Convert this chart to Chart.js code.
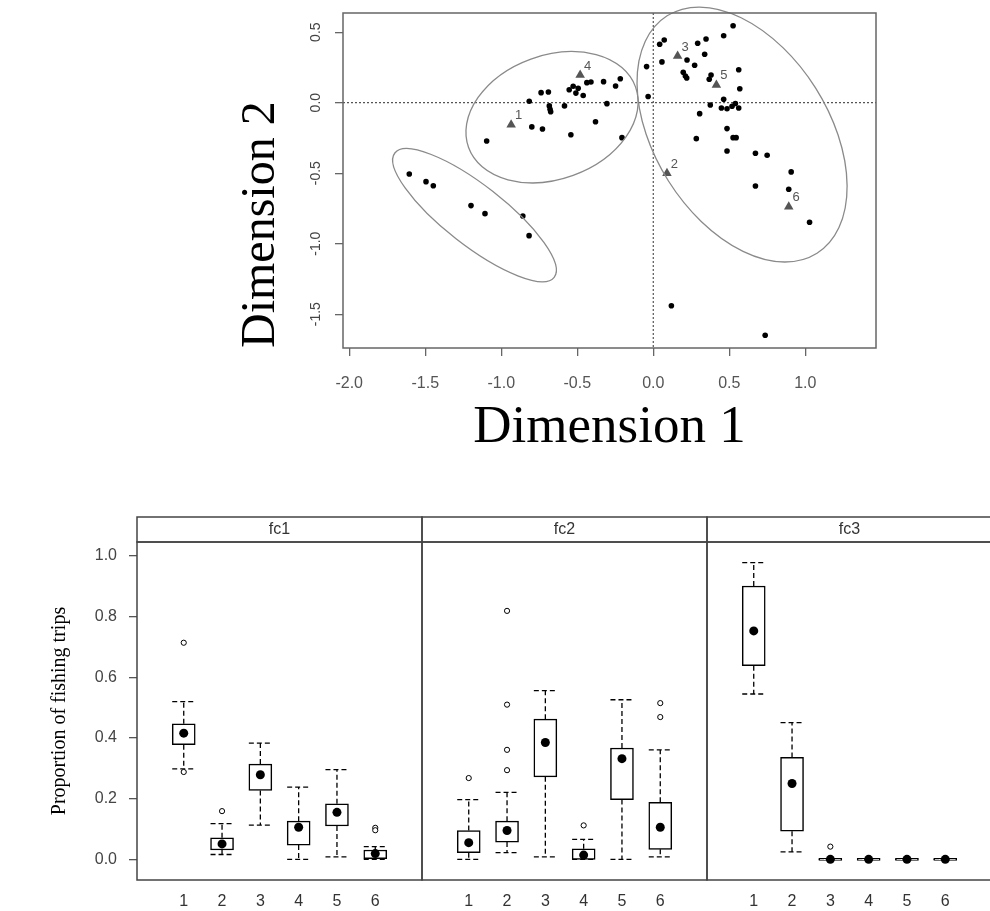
<!DOCTYPE html>
<html>
<head>
<meta charset="utf-8">
<script src="https://cdn.jsdelivr.net/npm/chart.js@4.4.1/dist/chart.umd.min.js"></script>
<style>
  html, body { margin: 0; padding: 0; background: #fff; }
  body { width: 990px; height: 911px; position: relative; overflow: hidden; }
  canvas { position: absolute; }
  #scatter { left: 0; top: 0; }
  #p1 { left: 0; top: 500px; }
  #p2 { left: 414px; top: 500px; }
  #p3 { left: 699px; top: 500px; }
</style>
</head>
<body>
<canvas id="scatter" width="990" height="470"></canvas>
<canvas id="p1" width="430" height="411"></canvas>
<canvas id="p2" width="301" height="411"></canvas>
<canvas id="p3" width="301" height="411"></canvas>
<script>
// ---- top: MDS plot ----
const dim1 = [-1.605, -1.495, -1.447, -1.199, -1.107, -0.858, -0.817,
  -1.096, -0.816, -0.738, -0.690, -0.684, -0.679, -0.675, -0.584, -0.799, -0.729, -0.542,
  -0.553, -0.527, -0.494, -0.509, -0.461, -0.437, -0.410, -0.327, -0.248, -0.217, -0.305, -0.380, -0.206,
  -0.044, -0.034, 0.525, 0.463, 0.347, 0.292, 0.338, 0.072, 0.042, 0.057, 0.222, 0.272,
  0.197, 0.211, 0.220, 0.380, 0.368, 0.562, 0.569, 0.463, 0.375, 0.448, 0.485, 0.518, 0.540, 0.562,
  0.305, 0.485, 0.525, 0.545, 0.283, 0.485, 0.672, 0.749, 0.907, 0.672, 0.891, 1.028, 0.119, 0.736]
const dim2 = [-0.506, -0.560, -0.589, -0.730, -0.787, -0.804, -0.943,
  -0.272, 0.010, 0.071, 0.076, -0.023, -0.047, -0.064, -0.023, -0.172, -0.187, -0.227,
  0.092, 0.116, 0.102, 0.068, 0.051, 0.142, 0.147, 0.149, 0.118, 0.170, -0.007, -0.135, -0.248,
  0.256, 0.044, 0.546, 0.475, 0.452, 0.421, 0.343, 0.445, 0.414, 0.289, 0.303, 0.265,
  0.216, 0.189, 0.175, 0.196, 0.166, 0.234, 0.099, 0.024, -0.016, -0.038, -0.043, -0.025, -0.006, -0.038,
  -0.078, -0.184, -0.248, -0.248, -0.255, -0.343, -0.359, -0.373, -0.491, -0.591, -0.614, -0.848, -1.440, -1.650]

const groupLabels = ['1', '2', '3', '4', '5', '6']
const groupDim1 = [-0.935, 0.090, 0.160, -0.481, 0.415, 0.891]
const groupDim2 = [-0.156, -0.501, 0.331, 0.196, 0.126, -0.738]

// ellipses: centre, end of major axis, minor/major ratio
const ellCx = [-1.176, -0.666, 0.584]
const ellCy = [-0.798, -0.103, -0.226]
const ellAx = [-0.652, -0.117, 1.077]
const ellAy = [-1.239, 0.112, -1.068]
const ellRatio = [0.297, 0.697, 0.620]

const dim1Ticks = [-2.0, -1.5, -1.0, -0.5, 0.0, 0.5, 1.0]
const dim2Ticks = [-1.5, -1.0, -0.5, 0.0, 0.5]

// ---- bottom: boxplots ----
const categories = [1, 2, 3, 4, 5, 6]
const propTicks = [0.0, 0.2, 0.4, 0.6, 0.8, 1.0]

const fc1Low = [0.298, 0.016, 0.113, 0.000, 0.008, 0.000]
const fc1Q1 = [0.378, 0.031, 0.227, 0.047, 0.110, 0.000]
const fc1Med = [0.416, 0.051, 0.279, 0.106, 0.155, 0.019]
const fc1Q3 = [0.447, 0.071, 0.314, 0.126, 0.183, 0.031]
const fc1High = [0.520, 0.118, 0.383, 0.238, 0.296, 0.042]
const fc1Out = [[0.714, 0.288], [0.159], [], [], [], [0.104, 0.096]]

const fc2Low = [0.000, 0.022, 0.008, 0.000, 0.000, 0.008]
const fc2Q1 = [0.022, 0.057, 0.272, 0.000, 0.197, 0.033]
const fc2Med = [0.055, 0.095, 0.385, 0.014, 0.332, 0.106]
const fc2Q3 = [0.095, 0.126, 0.462, 0.035, 0.367, 0.188]
const fc2High = [0.197, 0.221, 0.556, 0.066, 0.526, 0.361]
const fc2Out = [[0.268], [0.819, 0.510, 0.361, 0.294], [], [0.112], [], [0.515, 0.469]]

const fc3Low = [0.545, 0.025, 0, 0, 0, 0]
const fc3Q1 = [0.638, 0.093, 0, 0, 0, 0]
const fc3Med = [0.753, 0.250, 0, 0, 0, 0]
const fc3Q3 = [0.901, 0.336, 0, 0, 0, 0]
const fc3High = [0.978, 0.451, 0, 0, 0, 0]
const fc3Out = [[], [], [0.042], [], [], []]

const SANS = 'Liberation Sans, Arial, sans-serif'
const SERIF = 'Liberation Serif, Times New Roman, serif'

const mdsDecor = {
  id: 'mdsDecor',
  beforeDatasetsDraw(chart) {
    const { ctx, chartArea: a, scales: { x, y } } = chart
    ctx.save()
    ctx.strokeStyle = '#555'
    ctx.lineWidth = 1.2
    ctx.setLineDash([2, 2])
    ctx.beginPath()
    ctx.moveTo(x.getPixelForValue(0), a.top)
    ctx.lineTo(x.getPixelForValue(0), a.bottom)
    ctx.moveTo(a.left, y.getPixelForValue(0))
    ctx.lineTo(a.right, y.getPixelForValue(0))
    ctx.stroke()
    ctx.restore()
  },
  afterDatasetsDraw(chart) {
    const { ctx, chartArea: a, scales: { x, y } } = chart
    ctx.save()
    // ellipses
    ctx.strokeStyle = '#8a8a8a'
    ctx.lineWidth = 1.3
    ellCx.forEach((cx, i) => {
      const px = x.getPixelForValue(cx), py = y.getPixelForValue(ellCy[i])
      const ax = x.getPixelForValue(ellAx[i]), ay = y.getPixelForValue(ellAy[i])
      const r = Math.hypot(ax - px, ay - py)
      ctx.beginPath()
      ctx.ellipse(px, py, r, r * ellRatio[i], Math.atan2(ay - py, ax - px), 0, Math.PI * 2)
      ctx.stroke()
    })
    // group labels
    ctx.fillStyle = '#555'
    ctx.font = '13px ' + SANS
    ctx.textAlign = 'center'
    ctx.textBaseline = 'middle'
    chart.getDatasetMeta(0).data.forEach((pt, i) => {
      ctx.fillText(groupLabels[i], pt.x + 7.5, pt.y - 9)
    })
    // box
    ctx.strokeStyle = '#666'
    ctx.lineWidth = 1.5
    ctx.strokeRect(a.left, a.top, a.right - a.left, a.bottom - a.top)
    // rotated y tick labels
    ctx.fillStyle = '#444'
    ctx.font = '14px ' + SANS
    dim2Ticks.forEach(v => {
      ctx.save()
      ctx.translate(a.left - 27, y.getPixelForValue(v))
      ctx.rotate(-Math.PI / 2)
      ctx.fillText(v.toFixed(1), 0, 0)
      ctx.restore()
    })
    ctx.restore()
  }
}

new Chart('scatter', {
  type: 'scatter',
  data: {
    datasets: [{
      data: groupDim1.map((v, i) => ({ x: v, y: groupDim2[i] })),
      pointStyle: 'triangle',
      pointRadius: 5.5,
      backgroundColor: '#555',
      borderColor: '#555',
      borderWidth: 0,
      order: 0
    }, {
      data: dim1.map((v, i) => ({ x: v, y: dim2[i] })),
      pointRadius: 2.8,
      backgroundColor: '#000',
      borderWidth: 0,
      order: 1
    }]
  },
  options: {
    responsive: false,
    animation: false,
    events: [],
    layout: { padding: { top: 13, right: 114, left: 0, bottom: 0 } },
    plugins: { legend: { display: false }, tooltip: { enabled: false } },
    scales: {
      x: {
        min: -2.041, max: 1.465,
        afterFit(s) { s.height = 122 },
        afterBuildTicks(s) { s.ticks = dim1Ticks.map(v => ({ value: v })) },
        grid: { drawOnChartArea: false, tickLength: 8, color: '#666', lineWidth: 1.3 },
        border: { display: false },
        ticks: { padding: 18, color: '#555', font: { family: SANS, size: 16 }, callback: v => v.toFixed(1), maxRotation: 0 },
        title: { display: true, text: 'Dimension 1', color: '#000', font: { family: SERIF, size: 53 }, padding: { bottom: 10 } }
      },
      y: {
        min: -1.74, max: 0.636,
        afterFit(s) { s.width = 343 },
        afterBuildTicks(s) { s.ticks = dim2Ticks.map(v => ({ value: v })) },
        grid: { drawOnChartArea: false, tickLength: 8, color: '#666', lineWidth: 1.3 },
        border: { display: false },
        ticks: { display: false },
        title: { display: true, text: 'Dimension 2', align: 'start', color: '#000', font: { family: SERIF, size: 48 }, padding: { top: 233 } }
      }
    }
  },
  plugins: [mdsDecor]
})

const panelDecor = {
  id: 'panelDecor',
  beforeDatasetsDraw(chart, args, o) {
    const { ctx, scales: { x, y } } = chart
    const half = o.capWidth / 2
    ctx.save()
    ctx.strokeStyle = '#000'
    ctx.lineWidth = 1.3
    ctx.setLineDash([5, 3])
    categories.forEach((c, i) => {
      const px = x.getPixelForValue(c)
      ;[[o.q3[i], o.high[i]], [o.q1[i], o.low[i]]].forEach(([from, to]) => {
        const y0 = y.getPixelForValue(from), y1 = y.getPixelForValue(to)
        ctx.beginPath()
        ctx.moveTo(px, y0)
        ctx.lineTo(px, y1)
        ctx.moveTo(px - half, y1)
        ctx.lineTo(px + half, y1)
        ctx.stroke()
      })
    })
    ctx.restore()
  },
  afterDraw(chart, args, o) {
    const { ctx, chartArea: a } = chart
    ctx.save()
    ctx.strokeStyle = '#444'
    ctx.lineWidth = 1.5
    ctx.strokeRect(a.left, a.top, a.right - a.left, a.bottom - a.top)
    ctx.strokeRect(a.left, a.top - 25, a.right - a.left, 25)
    ctx.fillStyle = '#333'
    ctx.font = '16px ' + SANS
    ctx.textAlign = 'center'
    ctx.textBaseline = 'middle'
    ctx.fillText(o.name, (a.left + a.right) / 2, a.top - 12)
    ctx.restore()
  }
}

function makePanel(id, name, low, q1, med, q3, high, out, showY) {
  const outliers = []
  categories.forEach((c, i) => out[i].forEach(v => outliers.push({ x: c, y: v })))

  new Chart(id, {
    type: 'bar',
    data: {
      datasets: [{
        type: 'scatter',
        data: categories.map((c, i) => ({ x: c, y: med[i] })),
        pointRadius: 4.5,
        backgroundColor: '#000',
        borderWidth: 0,
        order: 0
      }, {
        type: 'scatter',
        data: outliers,
        pointRadius: 2.6,
        backgroundColor: '#fff',
        borderColor: '#000',
        borderWidth: 1,
        order: 1
      }, {
        data: categories.map((c, i) => ({ x: c, y: [q1[i], q3[i]] })),
        backgroundColor: '#fff',
        borderColor: '#000',
        borderWidth: 1.5,
        borderSkipped: false,
        barThickness: 23,
        minBarLength: 2,
        order: 2
      }]
    },
    options: {
      responsive: false,
      animation: false,
      events: [],
      layout: { padding: { top: 42, right: 8, left: showY ? 0 : 8, bottom: 0 } },
      plugins: {
        legend: { display: false },
        tooltip: { enabled: false },
        panelDecor: { name, low, q1, q3, high, capWidth: 23 }
      },
      scales: {
        x: {
          type: 'linear',
          min: 0.4, max: 6.6,
          afterFit(s) { s.height = 31 },
          afterBuildTicks(s) { s.ticks = categories.map(v => ({ value: v })) },
          grid: { display: false },
          border: { display: false },
          ticks: { padding: 4, color: '#333', font: { family: SANS, size: 16 }, callback: v => String(v), maxRotation: 0 }
        },
        y: {
          display: showY,
          min: -0.068, max: 1.046,
          afterFit(s) { s.width = showY ? 137 : 0 },
          afterBuildTicks(s) { s.ticks = propTicks.map(v => ({ value: v })) },
          grid: { drawOnChartArea: false, tickLength: 8, color: '#555', lineWidth: 1.3 },
          border: { display: false },
          ticks: { padding: 12, color: '#444', font: { family: SANS, size: 16 }, callback: v => v.toFixed(1) },
          title: { display: true, text: 'Proportion of fishing trips', color: '#000', font: { family: SERIF, size: 20 }, padding: { top: 48 } }
        }
      }
    },
    plugins: [panelDecor]
  })
}

makePanel('p1', 'fc1', fc1Low, fc1Q1, fc1Med, fc1Q3, fc1High, fc1Out, true)
makePanel('p2', 'fc2', fc2Low, fc2Q1, fc2Med, fc2Q3, fc2High, fc2Out, false)
makePanel('p3', 'fc3', fc3Low, fc3Q1, fc3Med, fc3Q3, fc3High, fc3Out, false)
</script>
</body>
</html>
